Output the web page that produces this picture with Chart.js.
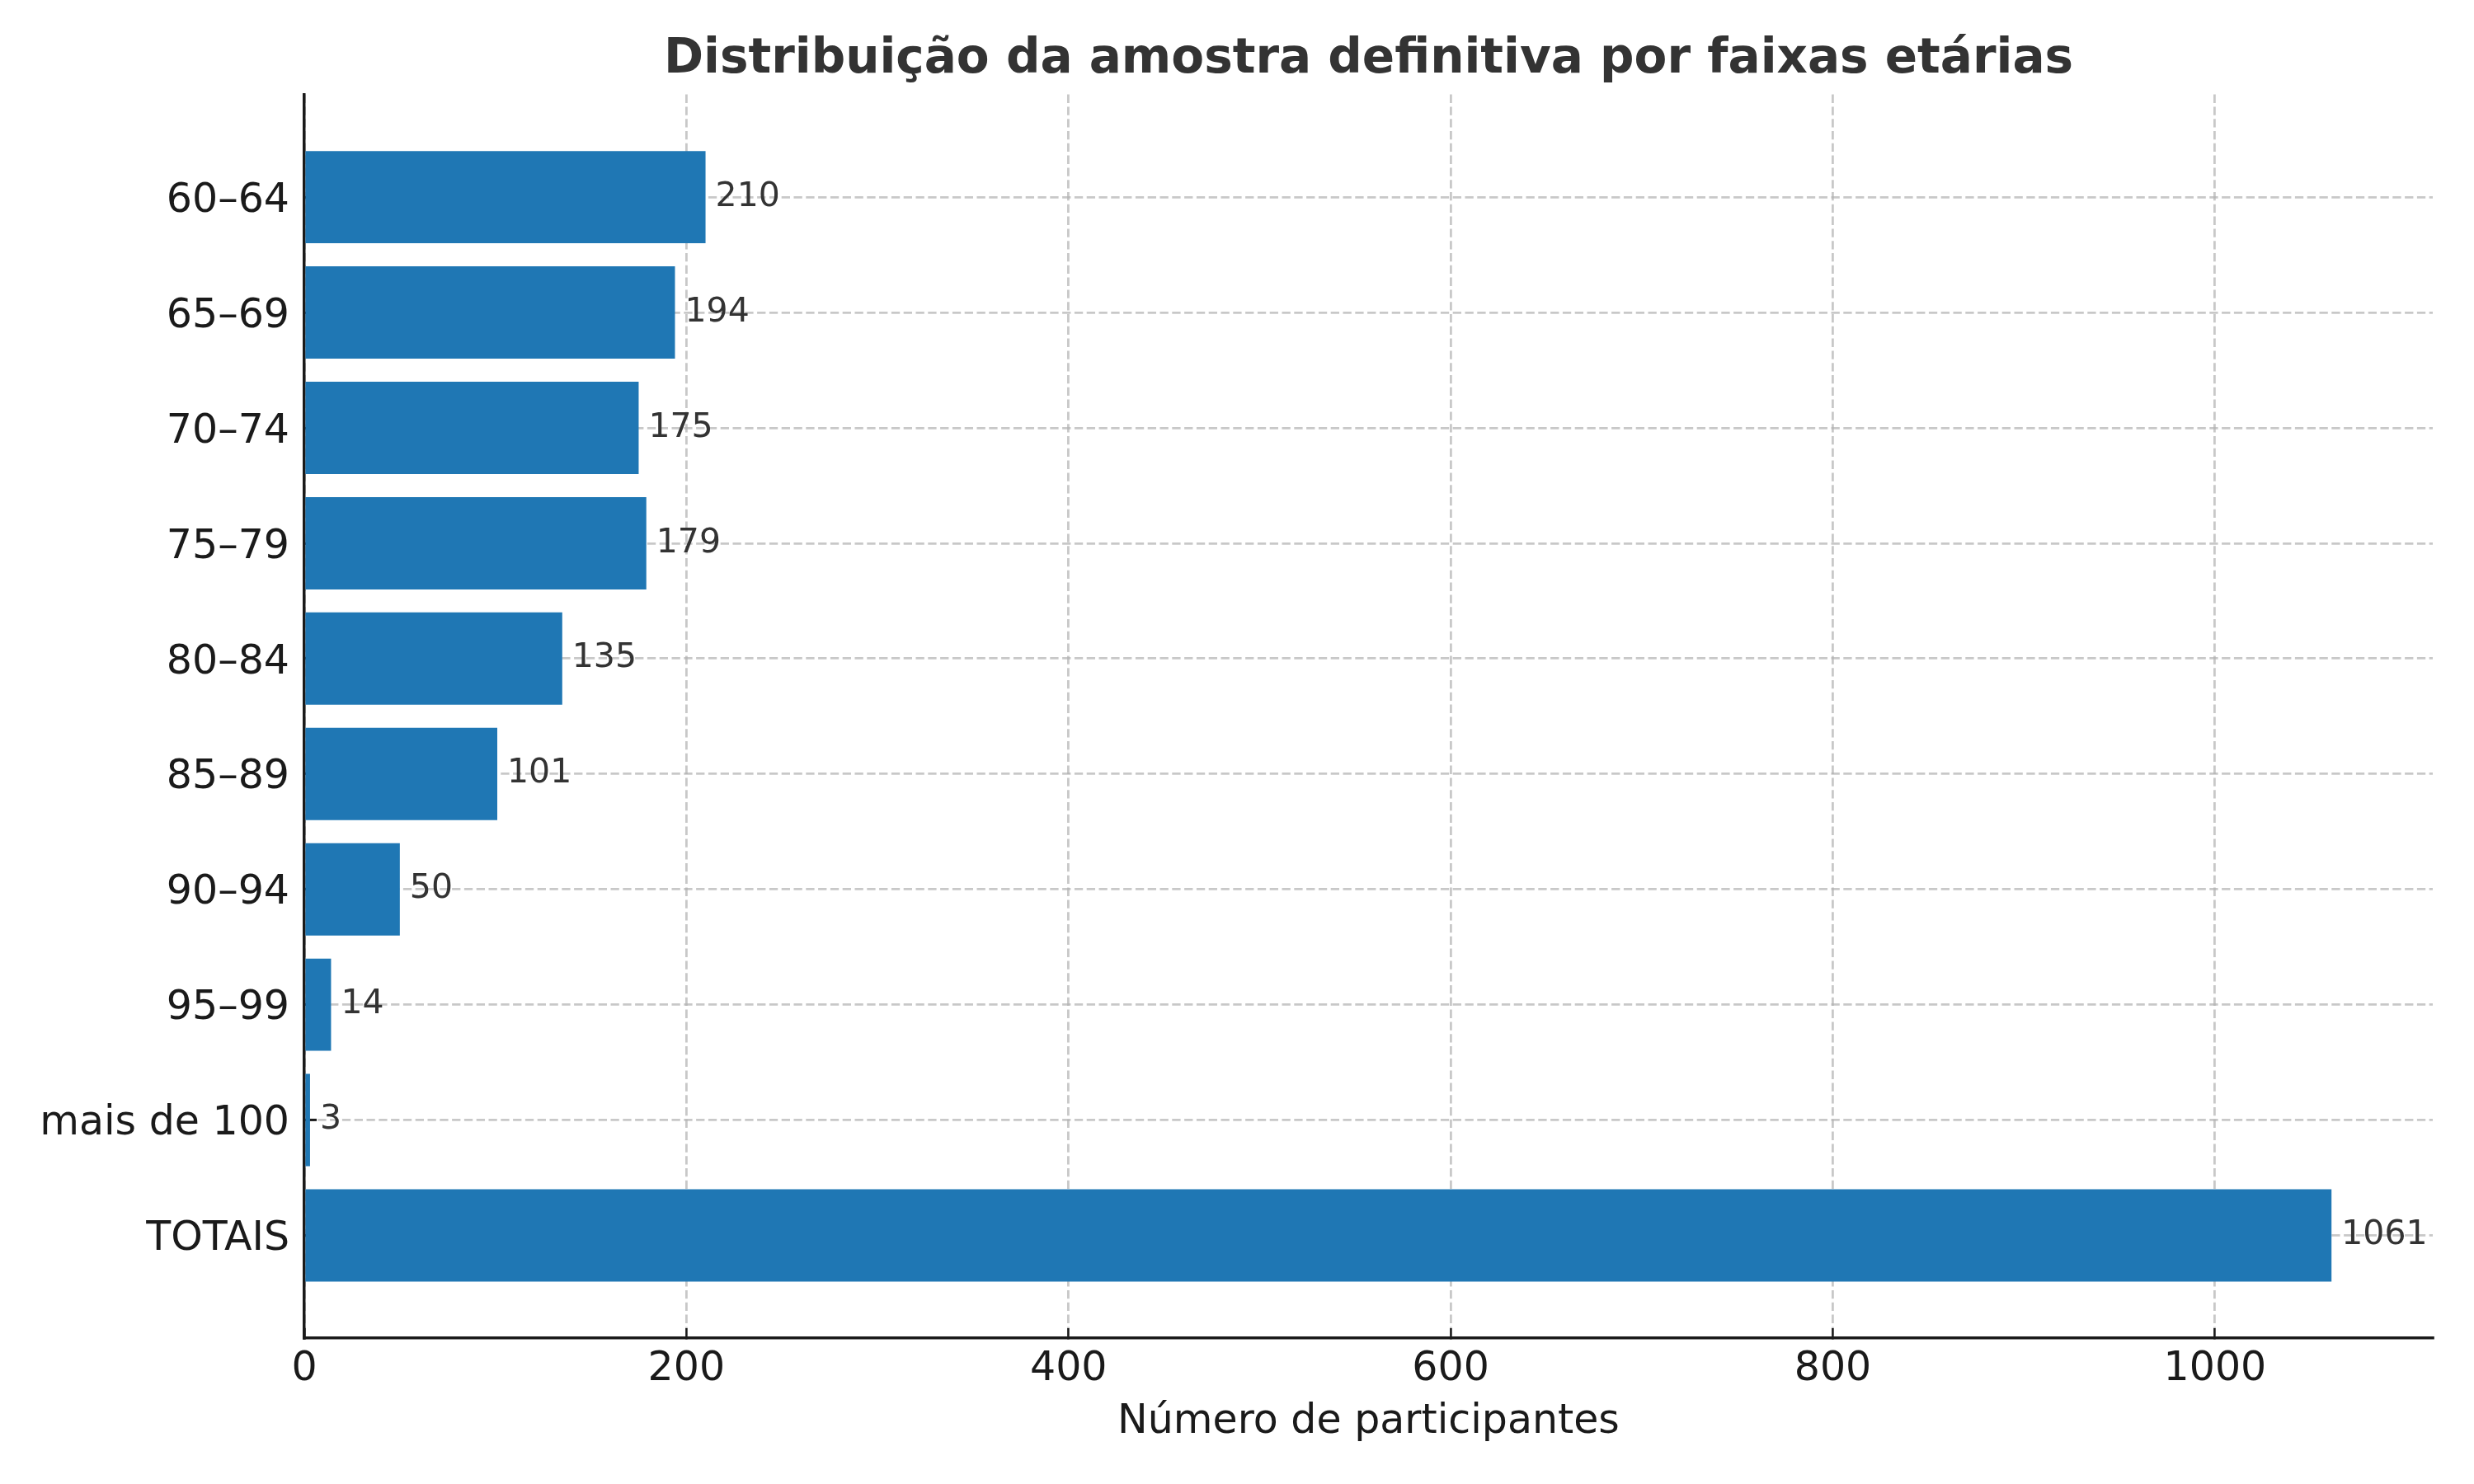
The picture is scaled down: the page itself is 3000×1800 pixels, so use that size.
<!DOCTYPE html>
<html>
<head>
<meta charset="utf-8">
<script src="https://cdn.jsdelivr.net/npm/chart.js@4.4.1/dist/chart.umd.min.js"></script>
<style>
  html, body { margin: 0; padding: 0; background: #ffffff; }
  #wrap { width: 3000px; height: 1800px; }
</style>
</head>
<body>
<div id="wrap"><canvas id="chartCanvas" width="3000" height="1800"></canvas></div>
<script>
const faixas = ['60–64', '65–69', '70–74', '75–79', '80–84', '85–89', '90–94', '95–99', 'mais de 100', 'TOTAIS'];
const participantes = [210, 194, 175, 179, 135, 101, 50, 14, 3, 1061];
const xTicks = [0, 200, 400, 600, 800, 1000];

const barColor = '#1f77b4';
const textDark = '#1a1a1a';
const gridColor = 'rgba(176, 176, 176, 0.7)';

Chart.defaults.font.family = 'DejaVu Sans';

// etiquetas de valor à direita de cada barra
const valueLabels = {
    id: 'valueLabels',
    afterDraw(chart) {
        const ctx = chart.ctx;
        const meta = chart.getDatasetMeta(0);
        ctx.save();
        ctx.font = '41px "DejaVu Sans"';
        ctx.fillStyle = '#333333';
        ctx.textAlign = 'left';
        ctx.textBaseline = 'middle';
        meta.data.forEach((bar, i) => {
            ctx.fillText(String(participantes[i]), bar.x + 12, bar.y);
        });
        ctx.restore();
    }
};

const ctx = document.getElementById('chartCanvas').getContext('2d');

new Chart(ctx, {
    type: 'bar',
    data: {
        datasets: [{
            data: participantes.map((v, i) => ({ x: v, y: i })),
            backgroundColor: barColor,
            borderWidth: 0,
            barPercentage: 0.8,
            categoryPercentage: 1.0
        }]
    },
    options: {
        indexAxis: 'y',
        responsive: false,
        animation: false,
        devicePixelRatio: 1,
        layout: { padding: { left: 0, right: 50, top: 0, bottom: 0 } },
        plugins: {
            legend: { display: false },
            tooltip: { enabled: false },
            title: {
                display: true,
                text: 'Distribuição da amostra definitiva por faixas etárias',
                fullSize: false,
                color: '#333333',
                font: { size: 58, weight: 'bold' },
                padding: { top: 38, bottom: 7 }
            }
        },
        scales: {
            x: {
                type: 'linear',
                position: 'bottom',
                min: 0,
                max: 1114,
                z: 1,
                afterFit(scale) { scale.height = 177; },
                afterBuildTicks(scale) { scale.ticks = xTicks.map(v => ({ value: v })); },
                ticks: {
                    includeBounds: false,
                    color: textDark,
                    font: { size: 49 },
                    padding: 21,
                    callback: (v) => String(v)
                },
                grid: {
                    color: gridColor,
                    lineWidth: 2.8,
                    tickLength: -12,
                    tickColor: textDark,
                    tickWidth: 2.5,
                    tickBorderDash: []
                },
                border: { display: true, color: textDark, width: 3.5, dash: [10.3, 4.5] },
                title: {
                    display: true,
                    text: 'Número de participantes',
                    color: textDark,
                    font: { size: 49 },
                    padding: { top: 0, bottom: 45 }
                }
            },
            y: {
                type: 'linear',
                position: 'left',
                reverse: true,
                offset: false,
                min: -0.89,
                max: 9.89,
                z: 1,
                afterFit(scale) { scale.width = 369; },
                afterBuildTicks(scale) { scale.ticks = faixas.map((f, i) => ({ value: i })); },
                ticks: {
                    color: textDark,
                    font: { size: 49 },
                    padding: 33,
                    labelOffset: 5,
                    callback: (v) => faixas[v]
                },
                grid: {
                    offset: false,
                    color: gridColor,
                    lineWidth: 2.8,
                    tickLength: -15,
                    tickColor: textDark,
                    tickWidth: 3,
                    tickBorderDash: []
                },
                border: { display: true, color: textDark, width: 3.5, dash: [10.3, 4.5] }
            }
        }
    },
    plugins: [valueLabels]
});
</script>
</body>
</html>
